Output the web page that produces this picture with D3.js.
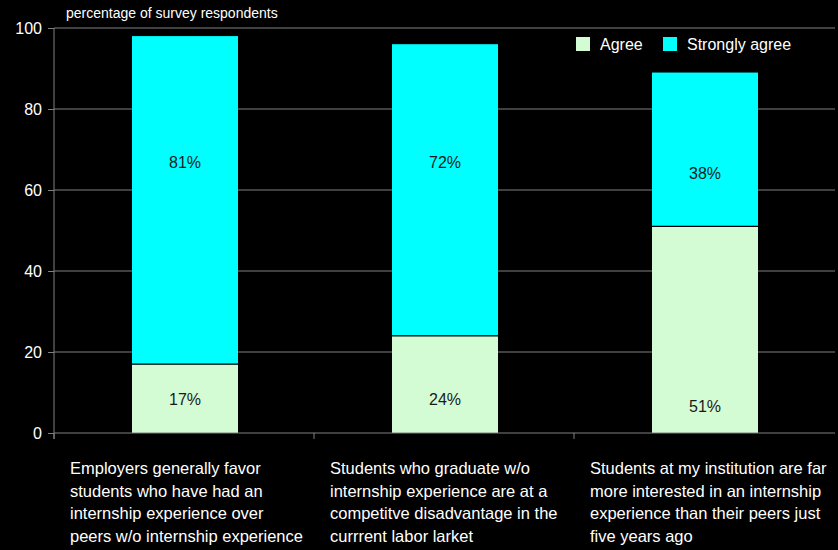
<!DOCTYPE html>
<html>
<head>
<meta charset="utf-8">
<script src="https://cdn.jsdelivr.net/npm/d3@7"></script>
<style>
  html, body { margin: 0; padding: 0; background: #000; }
  svg { display: block; }
  text { font-family: "Liberation Sans", Arial, sans-serif; }
</style>
</head>
<body>
<svg id="chart" width="838" height="550"></svg>
<script>
// Survey results: share of respondents who agree / strongly agree
const categories = [
  ["Employers generally favor", "students who have had an", "internship experience over", "peers w/o internship experience"],
  ["Students who graduate w/o", "internship experience are at a", "competitve disadvantage in the", "currrent labor larket"],
  ["Students at my institution are far", "more interested in an internship", "experience than their peers just", "five years ago"]
];
const agree = [17, 24, 51];
const stronglyAgree = [81, 72, 38];
const seriesNames = ["Agree", "Strongly agree"];
const yTicks = [0, 20, 40, 60, 80, 100];
// where each value label sits, in axis units
const agreeLabelAt = [8.3, 8.3, 6.5];
const stronglyLabelAt = [66.7, 66.7, 64.2];

const colors = { "Agree": "#d4fcd4", "Strongly agree": "#00ffff" };

const svg = d3.select("#chart");
const W = 838, H = 550;
const margin = { left: 54, right: 3, top: 28, bottom: 117 };
const plotW = W - margin.left - margin.right;
const plotH = H - margin.top - margin.bottom;

const g = svg.append("g").attr("transform", `translate(${margin.left},${margin.top})`);

const xBand = d3.scaleBand().domain(d3.range(categories.length)).range([0, 780]);
const barW = 106;
const barX = i => xBand(i) + (xBand.bandwidth() - barW) / 2 + 1;
const y = d3.scaleLinear().domain([0, 100]).range([plotH, 0]);

// horizontal gridlines
g.append("g").selectAll("line").data(yTicks.filter(d => d > 0)).join("line")
  .attr("x1", 0).attr("x2", plotW)
  .attr("y1", d => y(d)).attr("y2", d => y(d))
  .attr("stroke", "#808080").attr("stroke-width", 1);

// y axis
const yAxis = g.append("g").call(d3.axisLeft(y).tickValues(yTicks).tickSize(6).tickPadding(6));
yAxis.select(".domain").attr("stroke", "#808080").attr("d", `M0,${plotH + 6}V0`);
yAxis.selectAll(".tick line").attr("stroke", "#808080");
yAxis.selectAll(".tick text").attr("fill", "#fff").style("font-size", "16px");

// stacked bars
const stackData = categories.map((c, i) => ({ i, "Agree": agree[i], "Strongly agree": stronglyAgree[i] }));
const stacked = d3.stack().keys(seriesNames)(stackData);
const labelAt = { "Agree": agreeLabelAt, "Strongly agree": stronglyLabelAt };

const layers = g.append("g").selectAll("g").data(stacked).join("g")
  .attr("fill", d => colors[d.key]);
layers.selectAll("rect").data(d => d).join("rect")
  .attr("x", d => barX(d.data.i))
  .attr("width", barW)
  .attr("y", d => y(d[1]))
  .attr("height", d => y(d[0]) - y(d[1]));

// segment divider lines
g.append("g").selectAll("line").data(stackData).join("line")
  .attr("x1", d => barX(d.i)).attr("x2", d => barX(d.i) + barW)
  .attr("y1", d => y(d["Agree"])).attr("y2", d => y(d["Agree"]))
  .attr("stroke", "#000").attr("stroke-width", 1.2);

// value labels
layers.each(function (layer) {
  d3.select(this).selectAll("text").data(layer).join("text")
    .attr("x", d => barX(d.data.i) + barW / 2)
    .attr("y", d => y(labelAt[layer.key][d.data.i]))
    .attr("dy", "0.35em")
    .attr("text-anchor", "middle")
    .attr("fill", "#1a1a1a")
    .style("font-size", "16px")
    .text(d => `${d[1] - d[0]}%`);
});

// x axis baseline with ticks at band boundaries
g.append("line").attr("x1", 0).attr("x2", plotW).attr("y1", plotH).attr("y2", plotH)
  .attr("stroke", "#808080");
g.append("g").selectAll("line").data(d3.range(categories.length)).join("line")
  .attr("x1", d => d * xBand.bandwidth()).attr("x2", d => d * xBand.bandwidth())
  .attr("y1", plotH).attr("y2", plotH + 6)
  .attr("stroke", "#808080");

// category labels
const catLabels = g.append("g").selectAll("text").data(categories).join("text")
  .attr("x", (d, i) => xBand(i) + 16)
  .attr("y", plotH + 41)
  .attr("fill", "#fff")
  .style("font-size", "16.5px");
catLabels.selectAll("tspan").data(d => d).join("tspan")
  .attr("x", function () { return this.parentNode.getAttribute("x"); })
  .attr("dy", (d, j) => j === 0 ? 0 : 22.7)
  .text(d => d);

// axis title
svg.append("text").attr("x", 66).attr("y", 18)
  .attr("fill", "#fff").style("font-size", "14px")
  .text("percentage of survey respondents");

// legend
const legend = svg.append("g").selectAll("g").data(seriesNames).join("g")
  .attr("transform", (d, i) => `translate(${i === 0 ? 576 : 663},37)`);
legend.append("rect").attr("width", 14).attr("height", 14)
  .attr("fill", d => colors[d]);
legend.append("text").attr("x", 24).attr("y", 7).attr("dy", "0.35em")
  .attr("fill", "#fff").style("font-size", "16px").text(d => d);
</script>
</body>
</html>
